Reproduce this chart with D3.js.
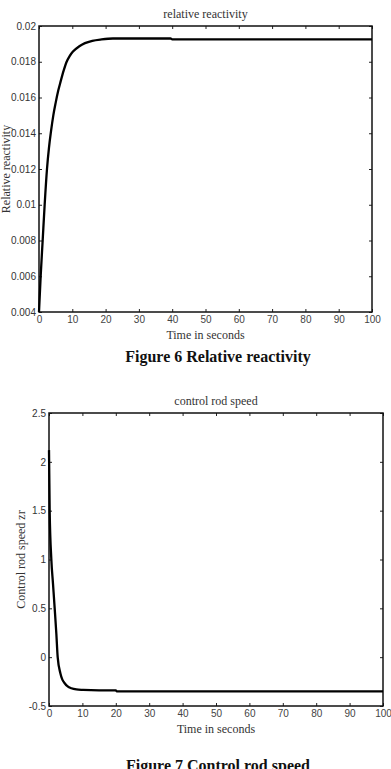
<!DOCTYPE html>
<html>
<head>
  <meta charset="utf-8">
  <title>Relative reactivity and control rod speed</title>
  <script src="https://d3js.org/d3.v7.min.js"></script>
  <style>
    body { margin: 0; background: #fff; }
    .tick text { font-family: "Liberation Sans", Arial, sans-serif; font-size: 10px; fill: #333; }
    .tick line { stroke: #222; }
    .serif { font-family: "Liberation Serif", "Times New Roman", serif; fill: #333; }
  </style>
</head>
<body>
  <div id="chart"></div>

  <script>
    // Figure 6: relative reactivity vs time
    var reactTime  = [0, 0.5, 1.1, 1.7, 2.4, 3.0, 3.6, 4.3, 5.0, 5.8, 6.5, 7.4, 8.3, 9.2, 10.2, 12, 13.8, 16, 18.8, 22.2, 30, 39.5, 40, 100];
    var reactValue = [0.004, 0.006, 0.008, 0.010, 0.012, 0.0132, 0.0141, 0.0150, 0.0157, 0.0164, 0.0169, 0.0175, 0.0180, 0.01832, 0.01857, 0.01885, 0.01904, 0.01917, 0.01925, 0.0193, 0.0193, 0.0193, 0.01925, 0.01925];
    var reactYTicks = [0.004, 0.006, 0.008, 0.01, 0.012, 0.014, 0.016, 0.018, 0.02];

    // Figure 7: control rod speed vs time
    var rodTime  = [0, 0.2, 0.7, 1.2, 1.7, 2.2, 2.6, 3.4, 4.0, 4.7, 5.6, 6.7, 8.2, 10.2, 15, 20, 20.3, 100];
    var rodValue = [2.12, 1.5, 1.0, 0.75, 0.5, 0.24, 0, -0.164, -0.23, -0.267, -0.30, -0.318, -0.33, -0.335, -0.34, -0.34, -0.35, -0.35];
    var rodYTicks = [-0.5, 0, 0.5, 1, 1.5, 2, 2.5];

    var xTicks = [0, 10, 20, 30, 40, 50, 60, 70, 80, 90, 100];

    var svg = d3.select("#chart")
      .append("svg")
      .attr("width", 391)
      .attr("height", 769);

    // plain hyphen for negatives, like the original plot
    var fmt = function(d) { return String(+d.toFixed(4)); };

    function drawPanel(opts) {
      var x = d3.scaleLinear().domain([0, 100]).range([opts.left, opts.right]);
      var y = d3.scaleLinear().domain(opts.yDomain).range([opts.bottom, opts.top]);
      var g = svg.append("g");

      g.append("g")
        .attr("transform", "translate(0," + opts.bottom + ")")
        .call(d3.axisBottom(x).tickValues(xTicks).tickSize(-3).tickPadding(4))
        .call(function(a) { a.select(".domain").remove(); a.selectAll("text").style("fill", "#444"); });

      g.append("g")
        .attr("transform", "translate(0," + opts.top + ")")
        .call(d3.axisTop(x).tickValues(xTicks).tickSize(-3).tickFormat(""))
        .call(function(a) { a.select(".domain").remove(); });

      g.append("g")
        .attr("transform", "translate(" + opts.left + ",0)")
        .call(d3.axisLeft(y).tickValues(opts.yTicks).tickSize(-3).tickPadding(3).tickFormat(fmt))
        .call(function(a) { a.select(".domain").remove(); });

      g.append("g")
        .attr("transform", "translate(" + opts.right + ",0)")
        .call(d3.axisRight(y).tickValues(opts.yTicks).tickSize(-3).tickFormat(""))
        .call(function(a) { a.select(".domain").remove(); });

      g.append("rect")
        .attr("x", opts.left)
        .attr("y", opts.top)
        .attr("width", opts.right - opts.left)
        .attr("height", opts.bottom - opts.top)
        .attr("fill", "none")
        .attr("stroke", "#111")
        .attr("stroke-width", 1.5);

      var line = d3.line()
        .x(function(d, i) { return x(opts.xs[i]); })
        .y(function(d) { return y(d); })
        .curve(d3.curveMonotoneX);

      g.append("path")
        .datum(opts.ys)
        .attr("fill", "none")
        .attr("stroke", "#000")
        .attr("stroke-width", 2.3)
        .attr("d", line);

      var cx = (opts.left + opts.right) / 2;

      g.append("text")
        .attr("class", "serif")
        .attr("x", cx)
        .attr("y", opts.top - 8)
        .attr("text-anchor", "middle")
        .style("font-size", "12px")
        .text(opts.title);

      g.append("text")
        .attr("class", "serif")
        .attr("x", cx)
        .attr("y", opts.bottom + 27)
        .attr("text-anchor", "middle")
        .style("font-size", "12px")
        .text("Time in seconds");

      g.append("text")
        .attr("class", "serif")
        .attr("transform", "rotate(-90)")
        .attr("x", -(opts.top + opts.bottom) / 2)
        .attr("y", opts.ylabelX)
        .attr("text-anchor", "middle")
        .style("font-size", "12px")
        .text(opts.ylabel);

      g.append("text")
        .attr("class", "serif")
        .attr("x", 218)
        .attr("y", opts.captionY)
        .attr("text-anchor", "middle")
        .style("font-size", "16px")
        .style("font-weight", "bold")
        .style("fill", "#111")
        .text(opts.caption);
    }

    drawPanel({
      left: 39, right: 372, top: 26, bottom: 312,
      yDomain: [0.004, 0.02], yTicks: reactYTicks,
      xs: reactTime, ys: reactValue,
      title: "relative reactivity",
      ylabel: "Relative reactivity", ylabelX: 10,
      caption: "Figure 6 Relative reactivity", captionY: 362
    });

    drawPanel({
      left: 49, right: 383, top: 413, bottom: 706,
      yDomain: [-0.5, 2.5], yTicks: rodYTicks,
      xs: rodTime, ys: rodValue,
      title: "control rod speed",
      ylabel: "Control rod speed zr", ylabelX: 25,
      caption: "Figure 7 Control rod speed", captionY: 771
    });
  </script>
</body>
</html>
